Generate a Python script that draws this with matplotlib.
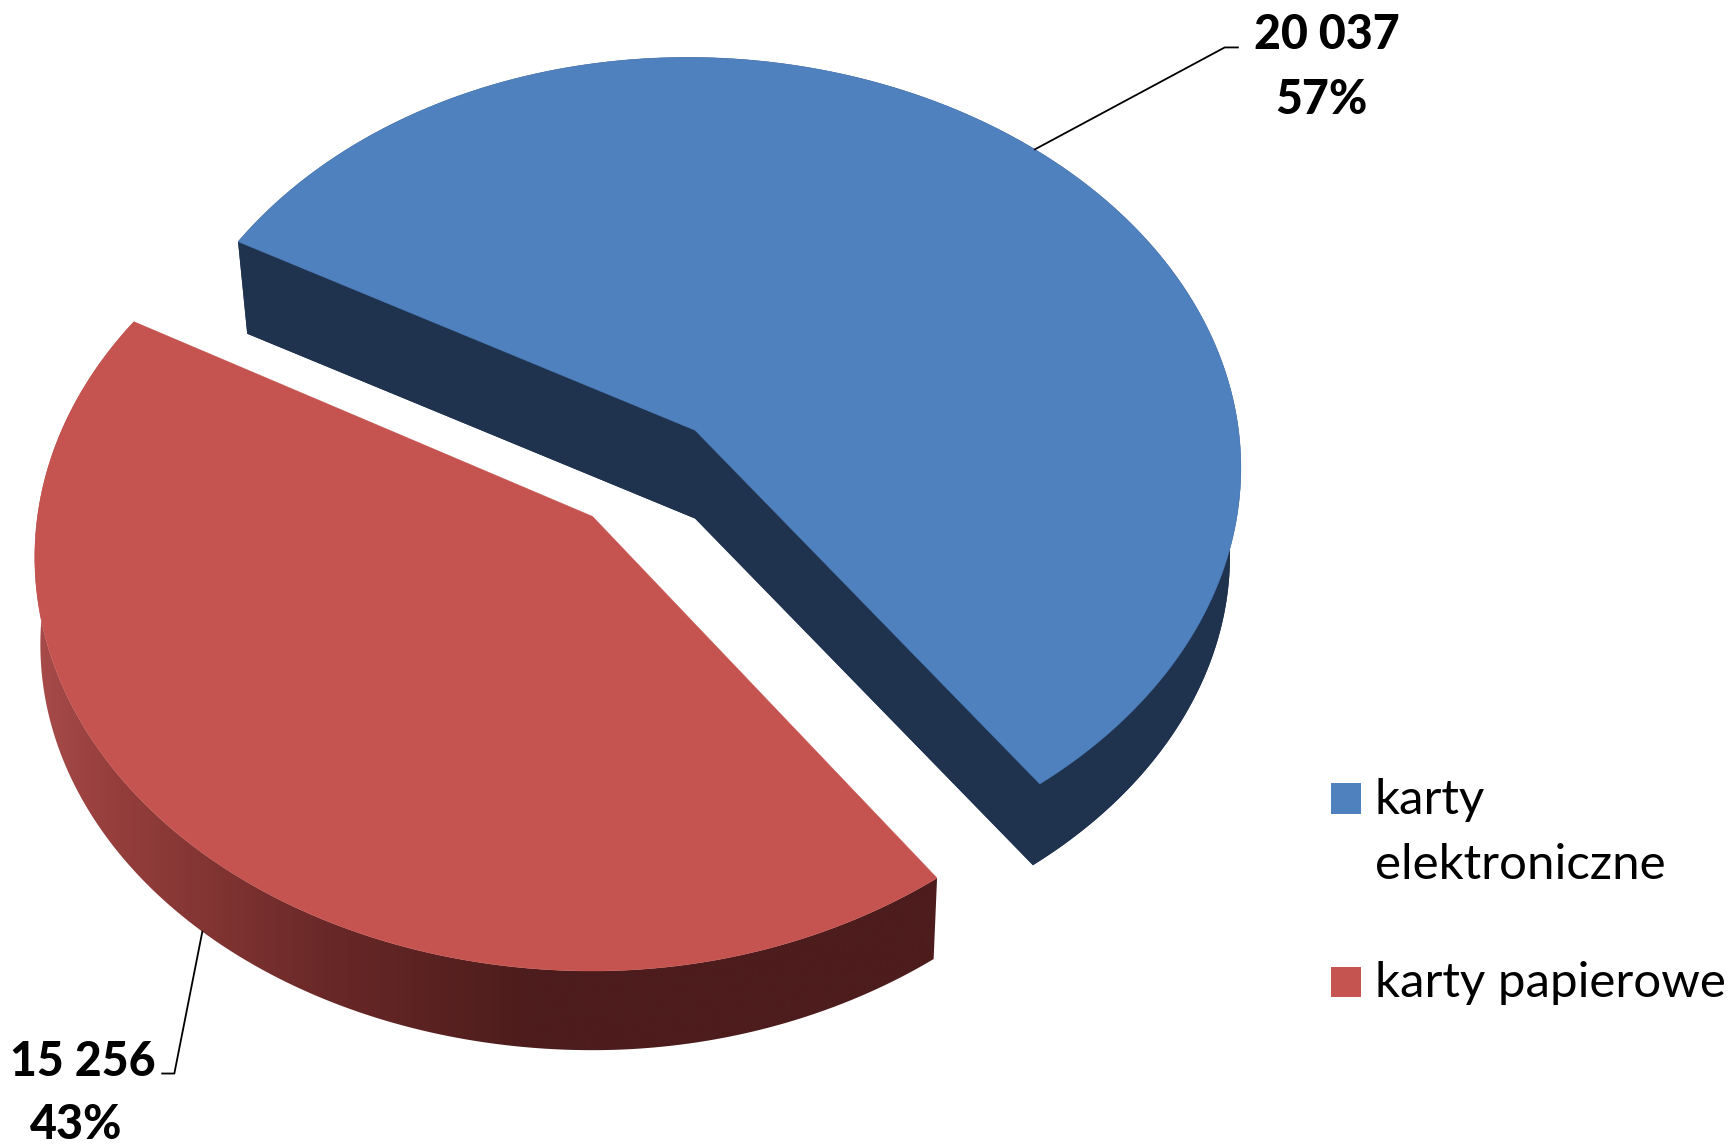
import numpy as np
import matplotlib
matplotlib.use("Agg")
import matplotlib.pyplot as plt
from matplotlib.patches import Polygon, Rectangle
from matplotlib.colors import to_rgb

categories = ["karty\nelektroniczne", "karty papierowe"]
values = [20037, 15256]
value_labels = ["20 037", "15 256"]
percent_labels = ["57%", "43%"]

START_ANGLE = -61.1
ROTATE = [0.0, 1.0]
K = [0.094, 0.0987]
A = [369.8, 371.4]
B = [492.6, 503.0]
DEPTH = 80
SHRINK_X = [0.98, 0.99]
SHRINK_Y = 0.98
APEX = [(630, 390), (537, 468)]
TOP = ["#5081bf", "#c5534f"]
SIDE_BLUE = "#1f334f"
STOPS_X = [30, 100, 180, 300, 480, 860]
STOPS_C = ["#a84c4a", "#963f3d", "#843634", "#682827", "#4d1c1c", "#4d1c1c"]

S = 1730 / 1568
fig = plt.figure(figsize=(17.30, 11.44), dpi=100, facecolor="white")
ax = fig.add_axes([0, 0, 1, 1])
XLIM, YLIM = (0, 1568), (1144 / S, 0)
FONT = ["Lato", "DejaVu Sans"]


def project(deg, i, radius=1.0, lower=False):
    t = np.radians(deg)
    u, v = radius * np.sin(t), radius * np.cos(t)
    w = 1 + K[i] * v
    x, y = B[i] * u / w, A[i] * v / w
    # small correction of the outline towards the left
    if i == 0:
        x = x - 5.9e-5 * y ** 2
    else:
        x = x - 1.1e-4 * y ** 2 * np.maximum(u, 0)
    if lower:
        return APEX[i][0] + SHRINK_X[i] * x, APEX[i][1] - SHRINK_Y * y + DEPTH
    return APEX[i][0] + x, APEX[i][1] - y


total = sum(values)
sweeps = [360 * v / total for v in values]
starts = [START_ANGLE, START_ANGLE + sweeps[0]]

# gradient strip used for the red slice's outer wall
xs = np.linspace(STOPS_X[0], STOPS_X[-1], 832)
rgb = np.array([to_rgb(c) for c in STOPS_C])
strip = np.stack([np.interp(xs, STOPS_X, rgb[:, n]) for n in range(3)], axis=-1)[None, :, :]

for i in range(2):
    angles = np.linspace(starts[i], starts[i] + sweeps[i], 400) + ROTATE[i]
    tx, ty = project(angles, i)
    bx, by = project(angles, i, lower=True)
    ax0, ay0 = project(0, i, radius=0)
    bx0, by0 = project(0, i, radius=0, lower=True)
    wall = list(zip(tx, ty)) + list(zip(bx[::-1], by[::-1]))
    if i == 0:
        ax.add_patch(Polygon([(bx0, by0)] + list(zip(bx, by)), fc=SIDE_BLUE, ec="none", zorder=1))
        ax.add_patch(Polygon(wall, fc=SIDE_BLUE, ec="none", zorder=1))
        for j in (0, -1):
            ax.add_patch(Polygon([(ax0, ay0), (tx[j], ty[j]), (bx[j], by[j]), (bx0, by0)],
                                 fc=SIDE_BLUE, ec="none", zorder=1))
    else:
        im = ax.imshow(strip, extent=(STOPS_X[0], STOPS_X[-1], 1144 / S, 0),
                       aspect="auto", interpolation="bilinear", zorder=1)
        clip = Polygon(wall, transform=ax.transData, fc="none", ec="none")
        ax.add_patch(clip)
        im.set_clip_path(clip)
    ax.add_patch(Polygon([(ax0, ay0)] + list(zip(tx, ty)), fc=TOP[i], ec=TOP[i], lw=0.3, zorder=2))

ax.set_xlim(*XLIM)
ax.set_ylim(*YLIM)
ax.axis("off")

# leader lines start near each slice's mid angle
mx, my = project(starts[0] + sweeps[0] / 2 + 1.5, 0)
ax.plot([mx, 1110, 1122], [my, 43, 43], color="black", lw=1.3, zorder=3)
mx, my = project(starts[1] + sweeps[1] / 2, 1, lower=True)
ax.plot([mx, 158, 147], [my, 973, 973], color="black", lw=1.3, zorder=3)

label_kw = dict(family=FONT, fontweight="black", fontsize=33.5, color="black",
                ha="center", va="center", zorder=4)
ax.text(1203, 32, value_labels[0], **label_kw)
ax.text(1198, 91, percent_labels[0], **label_kw)
ax.text(75, 963, value_labels[1], **label_kw)
ax.text(69, 1020, percent_labels[1], **label_kw)

# legend
for y, c in zip((710, 876), TOP):
    ax.add_patch(Rectangle((1206.5, y), 27.5, 27.5, fc=c, ec="none", zorder=4))
legend_kw = dict(family=FONT, fontsize=35.5, color="black", ha="left", va="baseline", zorder=4)
ax.text(1246, 738, categories[0].split("\n")[0], **legend_kw)
ax.text(1246, 797, categories[0].split("\n")[1], **legend_kw)
ax.text(1246, 904, categories[1], **legend_kw)

fig.savefig("out.png", dpi=100, facecolor="white")
